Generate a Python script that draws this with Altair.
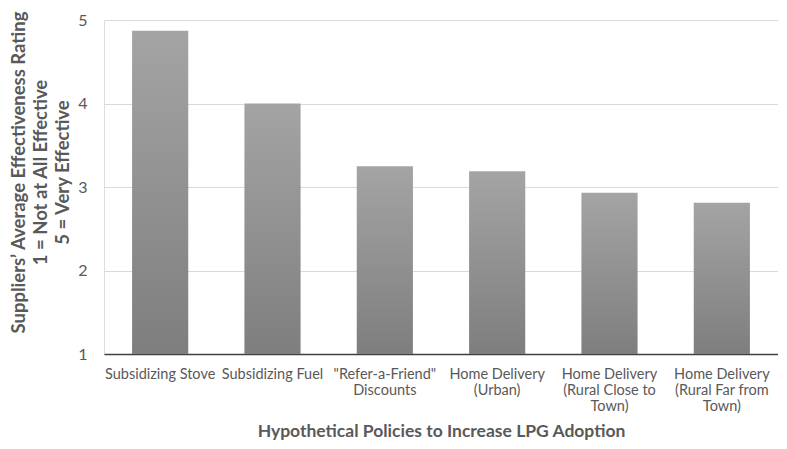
import altair as alt
import pandas as pd

policies = [
    "Subsidizing Stove",
    "Subsidizing Fuel",
    '"Refer-a-Friend"|Discounts',
    "Home Delivery|(Urban)",
    "Home Delivery|(Rural Close to|Town)",
    "Home Delivery|(Rural Far from|Town)",
]
ratings = [4.87, 4.00, 3.25, 3.19, 2.93, 2.81]
y_ticks = [1, 2, 3, 4, 5]

df = pd.DataFrame({"policy": policies, "rating": ratings})

FONT = "Lato"
grad = alt.LinearGradient(
    gradient="linear",
    stops=[alt.GradientStop(color="#a4a4a4", offset=0),
           alt.GradientStop(color="#7e7e7e", offset=1)],
    x1=0, x2=0, y1=0, y2=1,
)

chart = alt.Chart(df).mark_bar(color=grad).encode(
    x=alt.X("policy:N", sort=policies,
            scale=alt.Scale(paddingInner=0.5, paddingOuter=0.25),
            axis=alt.Axis(
                title="Hypothetical Policies to Increase LPG Adoption",
                labelAngle=0, labelExpr="split(datum.label, '|')",
                labelFont=FONT, labelFontSize=14.5, labelColor="#595959",
                labelLineHeight=16, labelPadding=13, labelLimit=200,
                ticks=False, domainColor="#404040", domainWidth=1.5,
                titleFont=FONT, titleFontSize=17.5, titleFontWeight="bold",
                titleColor="#595959", titlePadding=10,
            )),
    y=alt.Y("rating:Q",
            scale=alt.Scale(domain=[1, 5], nice=False, zero=False),
            axis=alt.Axis(
                values=y_ticks, format="d",
                title=["Suppliers\u2019 Average Effectiveness Rating",
                       "1 = Not at All Effective",
                       "5 = Very Effective"],
                labelFont=FONT, labelFontSize=16, labelColor="#595959",
                labelPadding=17, ticks=False, domain=False,
                gridColor="#d9d9d9", gridWidth=1,
                titleFont=FONT, titleFontSize=18.5, titleFontWeight="bold",
                titleColor="#595959", titleLineHeight=22,
                titleBaseline="top", titleAngle=270, titleAlign="center",
                titleX=-95, titleY=152,
            )),
    y2=alt.datum(1),
).properties(
    width=674, height=334,
    padding={"left": 96, "top": 12, "right": 0, "bottom": 86},
    autosize=alt.AutoSizeParams(type="none"),
).configure_view(stroke=None).configure(background="white")

chart.save("out.html", embed_options={"renderer": "svg", "actions": False})
